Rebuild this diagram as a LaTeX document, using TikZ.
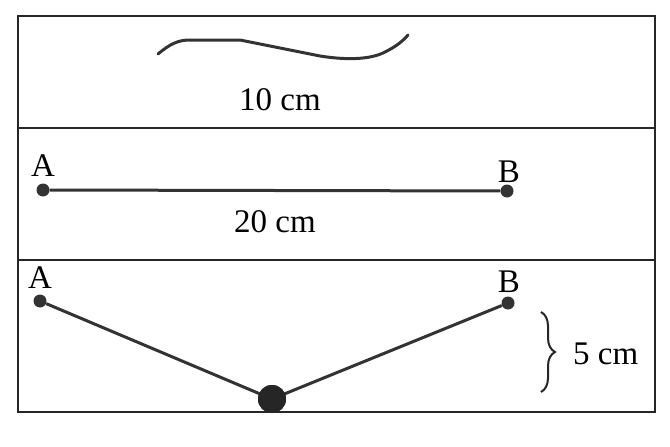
\documentclass[tikz,border=0pt]{standalone}
\usepackage{fontspec}
\setmainfont{Liberation Serif}
\usetikzlibrary{decorations.pathreplacing}
\begin{document}
\begin{tikzpicture}[x=1pt,y=-1pt,
  frame/.style={draw=black!85,line width=2.6pt},
  dot/.style={circle,fill=black!80,inner sep=0pt,minimum size=13pt},
  bigdot/.style={circle,fill=black!85,inner sep=0pt,minimum size=28pt},
  rope/.style={draw=black!80,line width=3pt},
  lbl/.style={font=\fontsize{33}{36}\selectfont,inner sep=0pt}]
\useasboundingbox (0,0) rectangle (670,447);
% frame and dividers
\draw[frame] (18,16) rectangle (655,412);
\draw[frame,line width=1.8pt] (18,128) -- (655,128);
\draw[frame,line width=1.8pt] (18,260) -- (655,260);
% panel 1: loose string
\draw[rope,line cap=round,line join=round] (158,54) .. controls (170,44) and (178,40) .. (190,40)
  -- (240,40) .. controls (270,46) and (300,52) .. (320,56)
  .. controls (345,60) and (370,60) .. (385,52) .. controls (395,47) and (402,42) .. (408,35);
\node[lbl] (l10) at (280,100) {10 cm};
% panel 2: straight string
\node[dot] (A1) at (43,190) {};
\node[dot] (B1) at (507,191) {};
\draw[rope] (A1) -- (B1);
\node[lbl,anchor=south] (tA1) at (43,177) {A};
\node[lbl,anchor=south] (tB1) at (509,183) {B};
\node[lbl] (l20) at (275,222) {20 cm};
% panel 3: sagging string
\node[dot] (A2) at (40,301) {};
\node[dot] (B2) at (508,303) {};
\node[bigdot] (M) at (272,399) {};
\draw[rope] (A2) -- (M.center) -- (B2);
\node[bigdot] at (272,399) {};
\node[lbl,anchor=south] (tA2) at (40,289) {A};
\node[lbl,anchor=south] (tB2) at (509,293) {B};
\coordinate (bt) at (541,312);
\coordinate (bb) at (541,392);
\draw[line width=2pt,black!85,decorate,decoration={brace,amplitude=14pt}] (bt) -- (bb);
\node[lbl,anchor=west] (l5) at (573,354) {5 cm};
\end{tikzpicture}
\end{document}
